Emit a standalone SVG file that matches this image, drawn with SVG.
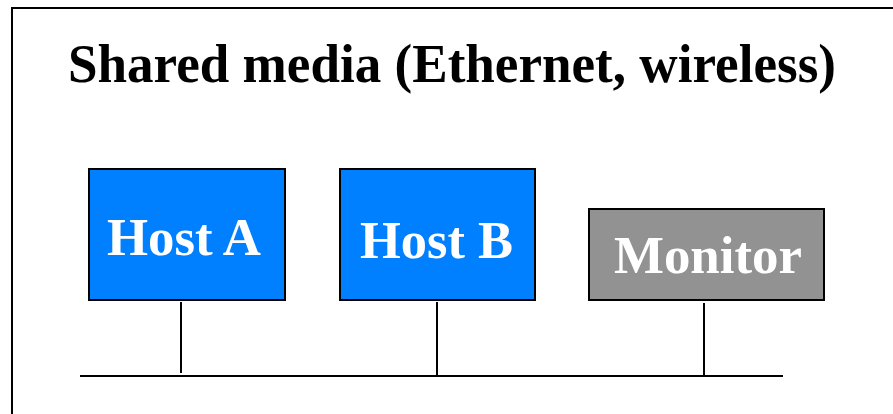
<svg xmlns="http://www.w3.org/2000/svg" width="893" height="414" viewBox="0 0 893 414">
<style>
.t{font-family:"Liberation Serif","Times New Roman",serif;font-weight:bold;}
.title{font-size:54px;fill:#000;}
.lbl{font-size:53px;fill:#fff;text-anchor:middle;}
.box{stroke:#000;stroke-width:2;}
.host{fill:#0080FF;}
.mon{fill:#929292;}
.ln{stroke:#000;stroke-width:2;fill:none;}
</style>
<rect x="0" y="0" width="893" height="414" fill="#fff"/>
<rect x="12" y="8" width="900" height="420" fill="none" stroke="#000" stroke-width="2"/>
<text class="t title" x="68" y="82" textLength="768" lengthAdjust="spacingAndGlyphs">Shared media (Ethernet, wireless)</text>
<g id="connectors">
<line class="ln" x1="80" y1="376" x2="783" y2="376"/>
<line class="ln" x1="181" y1="302" x2="181" y2="373"/>
<line class="ln" x1="437" y1="302" x2="437" y2="376"/>
<line class="ln" x1="704" y1="303" x2="704" y2="376"/>
</g>
<g id="hostA">
<rect class="box host" x="89" y="169" width="196" height="131"/>
<text class="t lbl" x="184" y="255" textLength="154" lengthAdjust="spacingAndGlyphs">Host A</text>
</g>
<g id="hostB">
<rect class="box host" x="340" y="169" width="195" height="131"/>
<text class="t lbl" x="436.5" y="258" textLength="153" lengthAdjust="spacingAndGlyphs">Host B</text>
</g>
<g id="monitor">
<rect class="box mon" x="589" y="209" width="235" height="91"/>
<text class="t lbl" x="708" y="273" textLength="188" lengthAdjust="spacingAndGlyphs">Monitor</text>
</g>
</svg>
